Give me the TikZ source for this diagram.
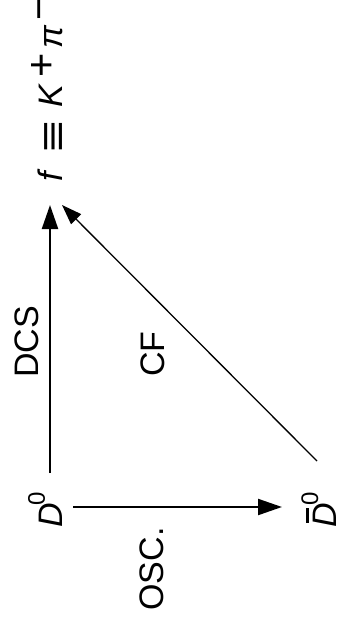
\documentclass[tikz,border=0pt]{standalone}
\usepackage{fontspec}
\usepackage{graphicx}
\setmainfont{Liberation Sans}
\usetikzlibrary{arrows.meta}
\begin{document}
\begin{tikzpicture}[x=1pt,y=-1pt,
  lbl/.style={rotate=90,inner sep=0pt,font=\fontsize{34}{40}\selectfont},
  thickarrow/.style={line width=2.2pt,-{Triangle[length=24pt,width=16pt]}},
  thinarrow/.style={line width=1.3pt,-{Triangle[length=20pt,width=14pt]}}]
\useasboundingbox (0,0) rectangle (339,622);
\node[lbl,anchor=base west] (f) at (63,182)
  {\textit{f}\kern16.8pt\raisebox{-4pt}{\scalebox{1.6}[1.25]{≡}}\kern13.8pt\textit{K}\kern5.3pt\raisebox{7pt}{\fontsize{41.6}{42}\selectfont +}\kern4.7pt\textit{π}\kern5.5pt\raisebox{10.5pt}{\fontsize{40}{42}\selectfont −}};
\node[lbl,anchor=base west] (D0) at (63,528)
  {\textit{D}\kern-2pt\raisebox{18pt}{\fontsize{24}{24}\selectfont 0}};
\node[lbl,anchor=base west] (Db) at (336,528)
  {\rlap{\kern5pt\rule[27pt]{15pt}{3pt}}\textit{D}\kern-2pt\raisebox{18pt}{\fontsize{24}{24}\selectfont 0}};
\node[lbl] (dcs) at (27,342) {DCS};
\node[lbl] (cf) at (153,354) {CF};
\node[lbl] (osc) at (152,569) {OSC.};
\draw[thickarrow,shorten <=55pt,shorten >=23pt] ([xshift=-13pt]D0.base west) -- ([xshift=-13pt]f.base west);
\draw[thickarrow] ([xshift=10pt,yshift=21pt]D0.base west) -- ([xshift=-54pt,yshift=21pt]Db.base west);
\draw[thinarrow] ([xshift=-19pt,yshift=67pt]Db.base west) -- ([xshift=-1pt,yshift=-23pt]f.base west);
\end{tikzpicture}
\end{document}
